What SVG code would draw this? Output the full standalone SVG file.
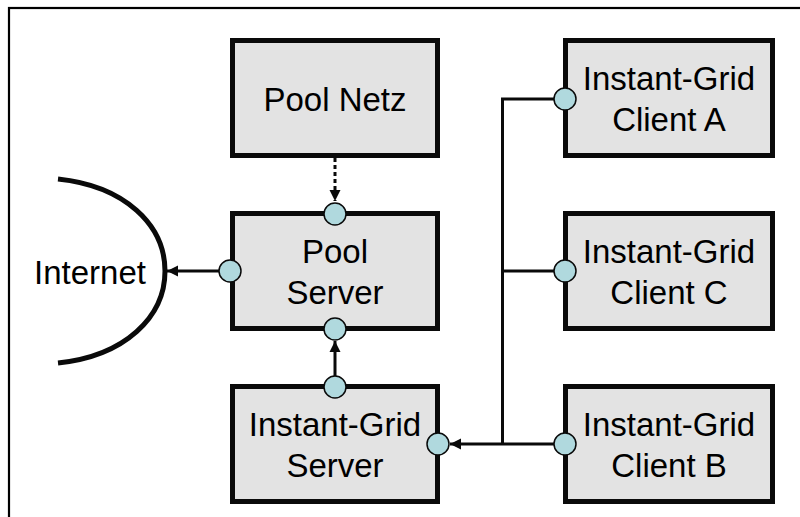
<svg xmlns="http://www.w3.org/2000/svg" width="800" height="517" viewBox="0 0 800 517">
<defs>
<style>
.box{fill:#e3e3e3;stroke:#0a0a0a;stroke-width:5}
.port{fill:#b0d9de;stroke:#0a0a0a;stroke-width:1.5}
.t{font-family:"Liberation Sans",Arial,sans-serif;font-size:33px;fill:#000;text-anchor:middle}
.ln{fill:none;stroke:#0a0a0a;stroke-width:3}
</style>
<marker id="ah" markerUnits="userSpaceOnUse" markerWidth="12" markerHeight="12" viewBox="0 0 12 12" refX="11" refY="6" orient="auto">
<path d="M0,0.5 L11,6 L0,11.5 Z" fill="#0a0a0a"/>
</marker>
</defs>
<rect width="800" height="517" fill="#fff"/>
<rect x="9" y="8" width="800" height="520" fill="none" stroke="#000" stroke-width="2.2"/>
<g id="internet">
<path d="M58,179 C125,186 165,225 165,271 C165,317 125,356 58,363" fill="none" stroke="#0a0a0a" stroke-width="5"/>
<text class="t" x="90" y="284">Internet</text>
</g>
<g id="connectors">
<line class="ln" x1="335" y1="158" x2="335" y2="201" stroke-dasharray="4 3" marker-end="url(#ah)"/>
<line class="ln" x1="220" y1="271" x2="167" y2="271" marker-end="url(#ah)"/>
<line class="ln" x1="335" y1="376" x2="335" y2="341" marker-end="url(#ah)"/>
<polyline class="ln" points="555,99 502.5,99 502.5,444"/>
<line class="ln" x1="502.5" y1="271" x2="555" y2="271"/>
<line class="ln" x1="555" y1="444" x2="450" y2="444" marker-end="url(#ah)"/>
</g>
<g id="pool-netz">
<rect class="box" x="232.5" y="40.5" width="205" height="115"/>
<text class="t" x="335" y="111">Pool Netz</text>
</g>
<g id="pool-server">
<rect class="box" x="232.5" y="213.5" width="205" height="115"/>
<text class="t" x="335" y="263">Pool</text>
<text class="t" x="335" y="304">Server</text>
<circle class="port" cx="335" cy="214" r="11"/>
<circle class="port" cx="230" cy="271" r="11"/>
<circle class="port" cx="335" cy="329" r="11"/>
</g>
<g id="ig-server">
<rect class="box" x="232.5" y="386.5" width="205" height="115"/>
<text class="t" x="335" y="436">Instant-Grid</text>
<text class="t" x="335" y="477">Server</text>
<circle class="port" cx="335" cy="387" r="11"/>
<circle class="port" cx="438" cy="444" r="11"/>
</g>
<g id="client-a">
<rect class="box" x="565.5" y="40.5" width="207" height="115"/>
<text class="t" x="669" y="90">Instant-Grid</text>
<text class="t" x="669" y="131">Client A</text>
<circle class="port" cx="565" cy="99" r="11"/>
</g>
<g id="client-c">
<rect class="box" x="565.5" y="213.5" width="207" height="115"/>
<text class="t" x="669" y="263">Instant-Grid</text>
<text class="t" x="669" y="304">Client C</text>
<circle class="port" cx="565" cy="271" r="11"/>
</g>
<g id="client-b">
<rect class="box" x="565.5" y="386.5" width="207" height="115"/>
<text class="t" x="669" y="436">Instant-Grid</text>
<text class="t" x="669" y="477">Client B</text>
<circle class="port" cx="565" cy="444" r="11"/>
</g>
</svg>
